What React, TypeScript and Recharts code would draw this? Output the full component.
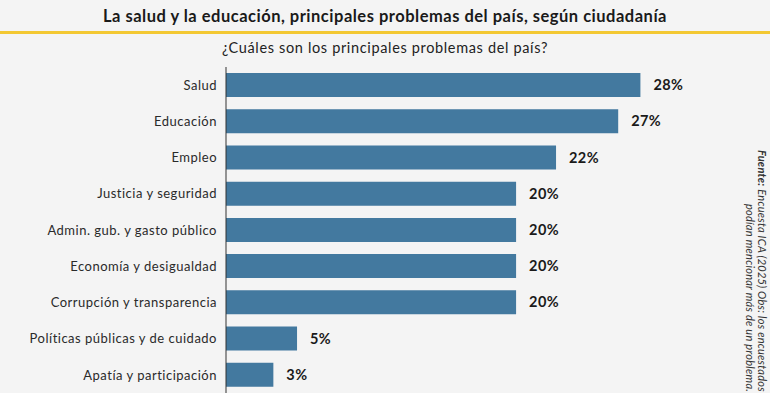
import { BarChart, Bar, XAxis, YAxis, LabelList } from "recharts";

const categories = [
  "Salud",
  "Educación",
  "Empleo",
  "Justicia y seguridad",
  "Admin. gub. y gasto público",
  "Economía y desigualdad",
  "Corrupción y transparencia",
  "Políticas públicas y de cuidado",
  "Apatía y participación",
];

// porcentaje de menciones
const values = [28.0, 26.5, 22.3, 19.6, 19.6, 19.6, 19.6, 4.8, 3.2];

const TITLE = "La salud y la educación, principales problemas del país, según ciudadanía";
const SUBTITLE = "¿Cuáles son los principales problemas del país?";
const SOURCE_1 = "Encuesta ICA (2025) Obs: los encuestados";
const SOURCE_2 = "podían mencionar más de un problema.";

const FONT = "Lato, 'Open Sans', sans-serif";
const BAR_COLOR = "#43799f";

const data = categories.map((name, i) => ({ name, value: values[i] }));

export default function App() {
  return (
    <div
      style={{
        position: "absolute",
        top: 0,
        left: 0,
        width: 770,
        height: 393,
        background: "#f4f4f4",
        overflow: "hidden",
        fontFamily: FONT,
        color: "#1a1a1a",
      }}
    >
      <div
        style={{
          position: "absolute",
          top: 6,
          width: 770,
          textAlign: "center",
          fontSize: 16.5,
          fontWeight: 700,
          letterSpacing: 0.5,
        }}
      >
        {TITLE}
      </div>
      <div style={{ position: "absolute", top: 31, left: 0, width: 770, height: 3, background: "#f3c832" }} />
      <div
        style={{
          position: "absolute",
          top: 39,
          width: 770,
          textAlign: "center",
          fontSize: 14.5,
          letterSpacing: 0.65,
          color: "#222",
        }}
      >
        {SUBTITLE}
      </div>

      <div style={{ position: "absolute", top: 0, left: 0 }}>
        <BarChart
          width={720}
          height={393}
          data={data}
          layout="vertical"
          margin={{ top: 67, right: 50, bottom: 0, left: 0 }}
          barSize={24}
        >
          <XAxis type="number" domain={[0, 30]} hide />
          <YAxis
            type="category"
            dataKey="name"
            width={226}
            tickLine={false}
            tickMargin={3}
            axisLine={{ stroke: "#333", strokeWidth: 1 }}
            tick={{ fontSize: 13, fill: "#2a2a2a", fontFamily: FONT, letterSpacing: 0.5 }}
          />
          <Bar dataKey="value" fill={BAR_COLOR} isAnimationActive={false}>
            <LabelList
              dataKey="value"
              position="right"
              offset={13}
              formatter={(v: number) => `${Math.round(v)}%`}
              style={{ fontSize: 14.5, fontWeight: 700, fill: "#1a1a1a", fontFamily: FONT, letterSpacing: 0.4 }}
            />
          </Bar>
        </BarChart>
      </div>

      <div
        style={{
          position: "absolute",
          right: 2,
          top: 146,
          height: 246,
          writingMode: "vertical-rl",
          textAlign: "end",
          fontSize: 11,
          letterSpacing: 0.25,
          fontStyle: "italic",
          lineHeight: "12px",
          color: "#333",
          whiteSpace: "nowrap",
        }}
      >
        <div>
          <b>Fuente:</b> {SOURCE_1}
        </div>
        <div>{SOURCE_2}</div>
      </div>
    </div>
  );
}
